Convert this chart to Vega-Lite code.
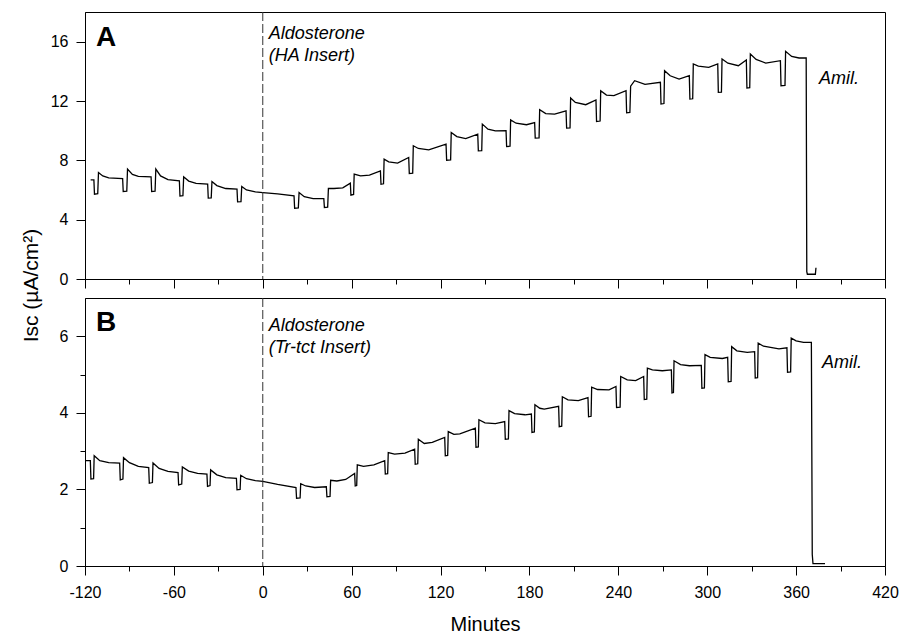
{
  "$schema": "https://vega.github.io/schema/vega-lite/v6.json",
  "padding": {"left": 19, "top": 11, "right": 17, "bottom": 0},
  "autosize": {"type": "pad"},
  "bounds": "flush",
  "spacing": 19,
  "config": {
    "font": "Liberation Sans",
    "view": {"stroke": "black", "strokeWidth": 1},
    "axis": {"grid": false, "domainColor": "black", "tickColor": "black", "labelColor": "black", "titleColor": "black", "titleFontWeight": "normal", "labelFontSize": 16, "tickWidth": 1, "labelFlush": false}
  },
  "datasets": {
    "A": [
      {"t": -116.2, "v": 6.68}, {"t": -114.0, "v": 6.68},
      {"t": -113.6, "v": 5.72}, {"t": -111.4, "v": 5.75}, {"t": -110.9, "v": 7.18}, {"t": -108, "v": 6.95}, {"t": -104, "v": 6.82}, {"t": -94.6, "v": 6.77},
      {"t": -94.2, "v": 5.9}, {"t": -91.8, "v": 5.92}, {"t": -91.3, "v": 7.41}, {"t": -88, "v": 7.05}, {"t": -84, "v": 6.92}, {"t": -75.4, "v": 6.89},
      {"t": -75.0, "v": 5.9}, {"t": -72.7, "v": 5.92}, {"t": -72.2, "v": 7.41}, {"t": -69, "v": 6.95}, {"t": -64, "v": 6.7}, {"t": -56.3, "v": 6.62},
      {"t": -55.9, "v": 5.6}, {"t": -53.9, "v": 5.62}, {"t": -53.4, "v": 6.89}, {"t": -50, "v": 6.6}, {"t": -45, "v": 6.45}, {"t": -37.2, "v": 6.39},
      {"t": -36.8, "v": 5.45}, {"t": -34.8, "v": 5.47}, {"t": -34.3, "v": 6.57}, {"t": -31, "v": 6.3}, {"t": -25, "v": 6.1}, {"t": -17.4, "v": 6.06},
      {"t": -17.0, "v": 5.2}, {"t": -14.7, "v": 5.22}, {"t": -14.2, "v": 6.23}, {"t": -11, "v": 6.0}, {"t": -5, "v": 5.88}, {"t": 0, "v": 5.83},
      {"t": 10, "v": 5.74}, {"t": 21.1, "v": 5.6},
      {"t": 21.5, "v": 4.77}, {"t": 24.0, "v": 4.8}, {"t": 24.5, "v": 5.83}, {"t": 28, "v": 5.55}, {"t": 34, "v": 5.42}, {"t": 41.2, "v": 5.42},
      {"t": 41.6, "v": 4.82}, {"t": 43.8, "v": 4.85}, {"t": 44.3, "v": 6.1}, {"t": 48, "v": 6.1}, {"t": 54, "v": 6.15}, {"t": 59.1, "v": 6.46},
      {"t": 59.5, "v": 5.65}, {"t": 61.3, "v": 5.7}, {"t": 61.7, "v": 7.07}, {"t": 66, "v": 6.95}, {"t": 72, "v": 7.0}, {"t": 79.4, "v": 7.29},
      {"t": 79.8, "v": 6.39}, {"t": 81.5, "v": 6.42}, {"t": 81.9, "v": 8.08}, {"t": 85, "v": 7.9}, {"t": 91, "v": 7.81}, {"t": 98.5, "v": 8.19},
      {"t": 98.9, "v": 7.11}, {"t": 101.2, "v": 7.13}, {"t": 101.6, "v": 8.98}, {"t": 105, "v": 8.8}, {"t": 112, "v": 8.71}, {"t": 123.7, "v": 9.09},
      {"t": 124.1, "v": 8.01}, {"t": 126.8, "v": 8.03}, {"t": 127.2, "v": 9.88}, {"t": 131, "v": 9.6}, {"t": 137, "v": 9.47}, {"t": 145.1, "v": 9.77},
      {"t": 145.5, "v": 8.64}, {"t": 147.8, "v": 8.66}, {"t": 148.2, "v": 10.44}, {"t": 152, "v": 10.1}, {"t": 157, "v": 9.99}, {"t": 164.2, "v": 10.0},
      {"t": 164.6, "v": 8.93}, {"t": 166.9, "v": 8.95}, {"t": 167.3, "v": 10.73}, {"t": 171, "v": 10.5}, {"t": 178, "v": 10.4}, {"t": 183.5, "v": 10.55},
      {"t": 183.9, "v": 9.5}, {"t": 186.5, "v": 9.52}, {"t": 186.9, "v": 11.41}, {"t": 191, "v": 11.15}, {"t": 197, "v": 11.12}, {"t": 204.7, "v": 11.34},
      {"t": 205.1, "v": 10.17}, {"t": 207.4, "v": 10.19}, {"t": 207.8, "v": 12.2}, {"t": 211, "v": 11.9}, {"t": 218, "v": 11.75}, {"t": 224.9, "v": 12.07},
      {"t": 225.3, "v": 10.62}, {"t": 227.7, "v": 10.65}, {"t": 228.1, "v": 12.69}, {"t": 232, "v": 12.4}, {"t": 237, "v": 12.36}, {"t": 245.2, "v": 12.69},
      {"t": 245.6, "v": 11.2}, {"t": 247.8, "v": 11.23}, {"t": 248.3, "v": 13.0}, {"t": 251, "v": 13.37}, {"t": 258, "v": 13.12}, {"t": 268.4, "v": 13.26},
      {"t": 268.8, "v": 11.8}, {"t": 270.8, "v": 11.83}, {"t": 271.2, "v": 14.04}, {"t": 275, "v": 13.7}, {"t": 281, "v": 13.48}, {"t": 287.9, "v": 13.71},
      {"t": 288.3, "v": 12.13}, {"t": 290.2, "v": 12.15}, {"t": 290.6, "v": 14.5}, {"t": 294, "v": 14.35}, {"t": 301, "v": 14.27}, {"t": 307.1, "v": 14.5},
      {"t": 307.5, "v": 12.58}, {"t": 309.6, "v": 12.6}, {"t": 310.0, "v": 14.83}, {"t": 314, "v": 14.55}, {"t": 321, "v": 14.38}, {"t": 326.4, "v": 14.77},
      {"t": 326.8, "v": 12.88}, {"t": 328.7, "v": 12.9}, {"t": 329.1, "v": 15.17}, {"t": 333, "v": 14.8}, {"t": 339.5, "v": 14.56}, {"t": 349.4, "v": 14.72},
      {"t": 349.8, "v": 13.03}, {"t": 352.5, "v": 13.05}, {"t": 352.9, "v": 15.35}, {"t": 357, "v": 15.0}, {"t": 362, "v": 14.9}, {"t": 366.8, "v": 14.9},
      {"t": 367.2, "v": 0.5}, {"t": 367.6, "v": 0.32}, {"t": 373.0, "v": 0.32}, {"t": 373.4, "v": 0.76}
    ],
    "B": [
      {"t": -119.5, "v": 2.75}, {"t": -116.4, "v": 2.75},
      {"t": -116.0, "v": 2.27}, {"t": -114.2, "v": 2.28}, {"t": -113.8, "v": 2.88}, {"t": -110, "v": 2.75}, {"t": -104, "v": 2.7}, {"t": -96.6, "v": 2.69},
      {"t": -96.2, "v": 2.25}, {"t": -94.4, "v": 2.27}, {"t": -94.0, "v": 2.83}, {"t": -90, "v": 2.7}, {"t": -84, "v": 2.6}, {"t": -77, "v": 2.57},
      {"t": -76.6, "v": 2.16}, {"t": -74.5, "v": 2.18}, {"t": -74.1, "v": 2.69}, {"t": -70, "v": 2.55}, {"t": -64, "v": 2.47}, {"t": -57.2, "v": 2.44},
      {"t": -56.8, "v": 2.12}, {"t": -54.7, "v": 2.14}, {"t": -54.3, "v": 2.59}, {"t": -50, "v": 2.48}, {"t": -44, "v": 2.42}, {"t": -37.7, "v": 2.4},
      {"t": -37.3, "v": 2.08}, {"t": -35.6, "v": 2.1}, {"t": -35.2, "v": 2.51}, {"t": -31, "v": 2.38}, {"t": -25, "v": 2.31}, {"t": -17.8, "v": 2.29},
      {"t": -17.4, "v": 1.99}, {"t": -15.3, "v": 2.0}, {"t": -14.9, "v": 2.37}, {"t": -11, "v": 2.28}, {"t": -5, "v": 2.23}, {"t": 0, "v": 2.21},
      {"t": 10, "v": 2.13}, {"t": 22.4, "v": 2.05},
      {"t": 22.8, "v": 1.77}, {"t": 25.2, "v": 1.78}, {"t": 25.6, "v": 2.15}, {"t": 29, "v": 2.09}, {"t": 35, "v": 2.05}, {"t": 42.9, "v": 2.07},
      {"t": 43.3, "v": 1.81}, {"t": 45.4, "v": 1.82}, {"t": 45.8, "v": 2.24}, {"t": 50, "v": 2.22}, {"t": 56, "v": 2.26}, {"t": 62.0, "v": 2.42},
      {"t": 62.4, "v": 2.09}, {"t": 63.4, "v": 2.1}, {"t": 63.8, "v": 2.64}, {"t": 68, "v": 2.6}, {"t": 75, "v": 2.64}, {"t": 82.3, "v": 2.75},
      {"t": 82.7, "v": 2.4}, {"t": 84.3, "v": 2.41}, {"t": 84.7, "v": 2.96}, {"t": 89, "v": 2.92}, {"t": 96, "v": 2.95}, {"t": 102.5, "v": 3.05},
      {"t": 102.9, "v": 2.66}, {"t": 104.6, "v": 2.67}, {"t": 105.0, "v": 3.31}, {"t": 109, "v": 3.2}, {"t": 114.4, "v": 3.23}, {"t": 122.8, "v": 3.36},
      {"t": 123.2, "v": 2.88}, {"t": 124.8, "v": 2.89}, {"t": 125.2, "v": 3.51}, {"t": 129, "v": 3.44}, {"t": 133, "v": 3.45}, {"t": 143.5, "v": 3.6},
      {"t": 143.9, "v": 3.1}, {"t": 145.5, "v": 3.11}, {"t": 145.9, "v": 3.82}, {"t": 150, "v": 3.74}, {"t": 157, "v": 3.72}, {"t": 163.3, "v": 3.77},
      {"t": 163.7, "v": 3.31}, {"t": 165.8, "v": 3.32}, {"t": 166.2, "v": 4.06}, {"t": 170, "v": 3.98}, {"t": 177, "v": 3.95}, {"t": 181.3, "v": 3.97},
      {"t": 181.7, "v": 3.49}, {"t": 183.3, "v": 3.5}, {"t": 183.7, "v": 4.21}, {"t": 187, "v": 4.12}, {"t": 190, "v": 4.1}, {"t": 199.7, "v": 4.17},
      {"t": 200.1, "v": 3.64}, {"t": 201.8, "v": 3.65}, {"t": 202.2, "v": 4.42}, {"t": 206, "v": 4.34}, {"t": 213, "v": 4.32}, {"t": 219.5, "v": 4.4},
      {"t": 219.9, "v": 3.9}, {"t": 221.6, "v": 3.91}, {"t": 222.0, "v": 4.67}, {"t": 226, "v": 4.61}, {"t": 233.7, "v": 4.6}, {"t": 238.4, "v": 4.69},
      {"t": 238.8, "v": 4.14}, {"t": 241.2, "v": 4.15}, {"t": 241.6, "v": 4.95}, {"t": 246, "v": 4.86}, {"t": 251.7, "v": 4.84}, {"t": 257.1, "v": 4.95},
      {"t": 257.5, "v": 4.35}, {"t": 259.2, "v": 4.36}, {"t": 259.6, "v": 5.17}, {"t": 263, "v": 5.12}, {"t": 269.7, "v": 5.1}, {"t": 275.8, "v": 5.12},
      {"t": 276.2, "v": 4.52}, {"t": 277.2, "v": 4.53}, {"t": 277.6, "v": 5.36}, {"t": 282, "v": 5.26}, {"t": 288, "v": 5.23}, {"t": 296.0, "v": 5.24},
      {"t": 296.4, "v": 4.64}, {"t": 298.1, "v": 4.65}, {"t": 298.5, "v": 5.52}, {"t": 302, "v": 5.45}, {"t": 310.2, "v": 5.42}, {"t": 313.8, "v": 5.45},
      {"t": 314.2, "v": 4.81}, {"t": 316.1, "v": 4.82}, {"t": 316.5, "v": 5.73}, {"t": 320, "v": 5.62}, {"t": 327, "v": 5.58}, {"t": 332.0, "v": 5.6},
      {"t": 332.4, "v": 4.91}, {"t": 334.0, "v": 4.92}, {"t": 334.4, "v": 5.82}, {"t": 338, "v": 5.74}, {"t": 348.4, "v": 5.67}, {"t": 353.8, "v": 5.7},
      {"t": 354.2, "v": 5.06}, {"t": 356.3, "v": 5.07}, {"t": 356.7, "v": 5.95}, {"t": 360, "v": 5.88}, {"t": 365, "v": 5.84}, {"t": 370.3, "v": 5.84},
      {"t": 370.9, "v": 0.3}, {"t": 371.4, "v": 0.06}, {"t": 379.5, "v": 0.06}
    ]
  },
  "vconcat": [
    {
      "width": 800,
      "height": 267,
      "layer": [
        {
          "data": {"name": "A"},
          "mark": {"type": "line", "color": "black", "strokeWidth": 1.3},
          "encoding": {
            "x": {
              "field": "t", "type": "quantitative",
              "scale": {"domain": [-120, 420], "nice": false, "zero": false},
              "axis": {
                "values": [-120, -90, -60, -30, 0, 30, 60, 90, 120, 150, 180, 210, 240, 270, 300, 330, 360, 390, 420],
                "labels": false, "title": null,
                "tickSize": {"condition": {"test": "datum.value % 60 === 0", "value": 9}, "value": 5}
              }
            },
            "y": {
              "field": "v", "type": "quantitative",
              "scale": {"domain": [0, 18], "nice": false},
              "axis": {
                "values": [0, 2, 4, 6, 8, 10, 12, 14, 16],
                "labelExpr": "datum.value % 4 === 0 ? datum.label : ''",
                "tickSize": {"condition": {"test": "datum.value % 4 === 0", "value": 9}, "value": 5},
                "labelPadding": 8,
                "title": "Isc (µA/cm²)",
                "titleFontSize": 21,
                "titleX": -44,
                "titleY": 273
              }
            }
          }
        },
        {
          "data": {"values": [{}]},
          "mark": {"type": "rule", "color": "#333", "strokeWidth": 1, "strokeDash": [9, 3]},
          "encoding": {"x": {"datum": 0}}
        },
        {
          "data": {"values": [{}]},
          "mark": {"type": "text", "fontSize": 28, "fontWeight": "bold", "align": "left", "baseline": "alphabetic", "color": "black"},
          "encoding": {"x": {"datum": -112.6}, "y": {"datum": 15.73}, "text": {"value": "A"}}
        },
        {
          "data": {"values": [{}]},
          "mark": {"type": "text", "fontSize": 18, "fontStyle": "italic", "align": "left", "baseline": "alphabetic", "lineHeight": 22, "color": "black"},
          "encoding": {"x": {"datum": 4}, "y": {"datum": 16.2}, "text": {"value": ["Aldosterone", "(HA Insert)"]}}
        },
        {
          "data": {"values": [{}]},
          "mark": {"type": "text", "fontSize": 18, "fontStyle": "italic", "align": "left", "baseline": "alphabetic", "color": "black"},
          "encoding": {"x": {"datum": 375.4}, "y": {"datum": 13.15}, "text": {"value": "Amil."}}
        }
      ]
    },
    {
      "width": 800,
      "height": 268,
      "layer": [
        {
          "data": {"name": "B"},
          "mark": {"type": "line", "color": "black", "strokeWidth": 1.3},
          "encoding": {
            "x": {
              "field": "t", "type": "quantitative",
              "scale": {"domain": [-120, 420], "nice": false, "zero": false},
              "axis": {
                "values": [-120, -90, -60, -30, 0, 30, 60, 90, 120, 150, 180, 210, 240, 270, 300, 330, 360, 390, 420],
                "labelExpr": "datum.value % 60 === 0 ? '' + datum.value : ''",
                "tickSize": {"condition": {"test": "datum.value % 60 === 0", "value": 9}, "value": 5},
                "labelPadding": 9,
                "title": "Minutes",
                "titleFontSize": 20,
                "titlePadding": 14
              }
            },
            "y": {
              "field": "v", "type": "quantitative",
              "scale": {"domain": [0, 7], "nice": false},
              "axis": {
                "values": [0, 0.5, 1, 1.5, 2, 2.5, 3, 3.5, 4, 4.5, 5, 5.5, 6, 6.5],
                "labelExpr": "datum.value % 2 === 0 ? datum.label : ''",
                "tickSize": {"condition": {"test": "datum.value % 2 === 0", "value": 9}, "value": 5},
                "labelPadding": 8,
                "title": null
              }
            }
          }
        },
        {
          "data": {"values": [{}]},
          "mark": {"type": "rule", "color": "#333", "strokeWidth": 1, "strokeDash": [9, 3]},
          "encoding": {"x": {"datum": 0}}
        },
        {
          "data": {"values": [{}]},
          "mark": {"type": "text", "fontSize": 28, "fontWeight": "bold", "align": "left", "baseline": "alphabetic", "color": "black"},
          "encoding": {"x": {"datum": -112.6}, "y": {"datum": 6.15}, "text": {"value": "B"}}
        },
        {
          "data": {"values": [{}]},
          "mark": {"type": "text", "fontSize": 18, "fontStyle": "italic", "align": "left", "baseline": "alphabetic", "lineHeight": 22, "color": "black"},
          "encoding": {"x": {"datum": 4}, "y": {"datum": 6.15}, "text": {"value": ["Aldosterone", "(Tr-tct Insert)"]}}
        },
        {
          "data": {"values": [{}]},
          "mark": {"type": "text", "fontSize": 18, "fontStyle": "italic", "align": "left", "baseline": "alphabetic", "color": "black"},
          "encoding": {"x": {"datum": 377.5}, "y": {"datum": 5.18}, "text": {"value": "Amil."}}
        }
      ]
    }
  ]
}
